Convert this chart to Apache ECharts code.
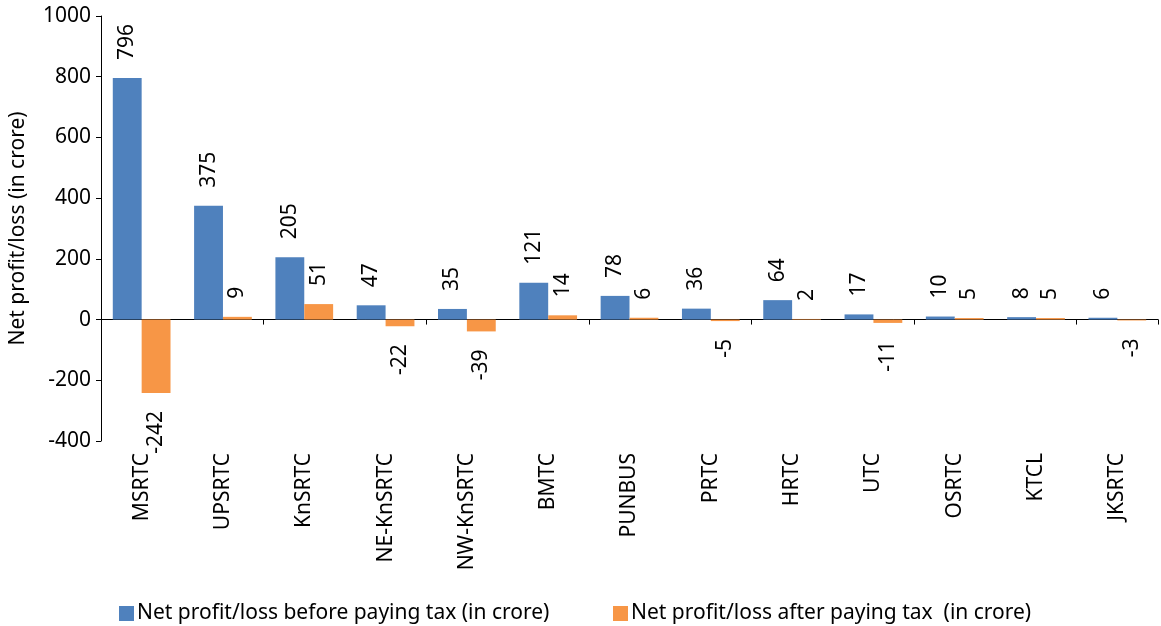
<!DOCTYPE html>
<html>
<head>
<meta charset="utf-8">
<script src="https://cdn.jsdelivr.net/npm/echarts@6/dist/echarts.min.js"></script>
<style>
  html, body { margin: 0; padding: 0; background: #fff; }
  #chart { width: 1161px; height: 626px; }
</style>
</head>
<body>
<div id="chart"></div>
<script>
// 数据
var categories = ['MSRTC', 'UPSRTC', 'KnSRTC', 'NE-KnSRTC', 'NW-KnSRTC', 'BMTC',
  'PUNBUS', 'PRTC', 'HRTC', 'UTC', 'OSRTC', 'KTCL', 'JKSRTC'];
var beforeTax = [796, 375, 205, 47, 35, 121, 78, 36, 64, 17, 10, 8, 6];
var afterTax = [-242, 9, 51, -22, -39, 14, 6, -5, 2, -11, 5, 5, -3];
var seriesNames = ['Net profit/loss before paying tax (in crore)',
  'Net profit/loss after paying tax  (in crore)'];
var yTicks = { min: -400, max: 1000, interval: 200 };

var FONT = 'Noto Sans';
var FS = 21;

// 正值标签在上，负值标签在下
function withLabels(values) {
	return values.map(function(v) {
		var neg = v < 0;
		return {
			value : v,
			label : {
				position : neg ? 'bottom' : 'top',
				align : neg ? 'right' : 'left'
			}
		};
	});
}

var myChart = echarts.init(document.getElementById('chart'));

var option = {
	animation : false,
	textStyle : { fontFamily : FONT, color : '#000' },
	grid : {
		left : 99,
		right : 3,
		top : 16,
		bottom : 185,
		containLabel : false
	},
	legend : [ {
		data : [ seriesNames[0] ],
		left : 114,
		top : 598,
		itemWidth : 15,
		itemHeight : 15,
		icon : 'rect',
		textStyle : { fontFamily : FONT, fontSize : FS, color : '#000', padding : [0, 0, 0, -2] }
	}, {
		data : [ seriesNames[1] ],
		left : 608,
		top : 598,
		itemWidth : 15,
		itemHeight : 15,
		icon : 'rect',
		textStyle : { fontFamily : FONT, fontSize : FS, color : '#000', padding : [0, 0, 0, -2] }
	} ],
	xAxis : [ {
		// 零线上的轴
		type : 'category',
		data : categories,
		axisLine : { onZero : true, lineStyle : { color : '#000', width : 1 } },
		axisTick : { show : true, length : 5, lineStyle : { color : '#000' } },
		axisLabel : { show : false }
	}, {
		// 底部类别标签
		type : 'category',
		data : categories,
		position : 'bottom',
		axisLine : { show : false },
		axisTick : { show : false },
		axisLabel : {
			rotate : 90,
			margin : 12,
			fontFamily : FONT,
			fontSize : FS,
			color : '#000',
			interval : 0
		}
	} ],
	yAxis : {
		type : 'value',
		min : yTicks.min,
		max : yTicks.max,
		interval : yTicks.interval,
		name : 'Net profit/loss (in crore)',
		nameLocation : 'middle',
		nameGap : 72,
		nameTextStyle : { fontFamily : FONT, fontSize : FS, color : '#000' },
		axisLine : { show : true, lineStyle : { color : '#000' } },
		axisTick : { show : true, length : 5, lineStyle : { color : '#000' } },
		axisLabel : {
			fontFamily : FONT, fontSize : FS, color : '#000', margin : 10,
			formatter : function(v) { return String(v); }
		},
		splitLine : { show : false }
	},
	series : [ {
		name : seriesNames[0],
		type : 'bar',
		xAxisIndex : 0,
		barGap : '0%',
		barCategoryGap : '29%',
		itemStyle : { color : '#4F81BD' },
		label : {
			show : true,
			rotate : 90,
			distance : 18,
			verticalAlign : 'middle',
			fontFamily : FONT,
			fontSize : FS,
			color : '#000'
		},
		data : withLabels(beforeTax)
	}, {
		name : seriesNames[1],
		type : 'bar',
		xAxisIndex : 0,
		itemStyle : { color : '#F79646' },
		label : {
			show : true,
			rotate : 90,
			distance : 18,
			verticalAlign : 'middle',
			fontFamily : FONT,
			fontSize : FS,
			color : '#000'
		},
		data : withLabels(afterTax)
	} ]
};

myChart.setOption(option);
</script>
</body>
</html>
